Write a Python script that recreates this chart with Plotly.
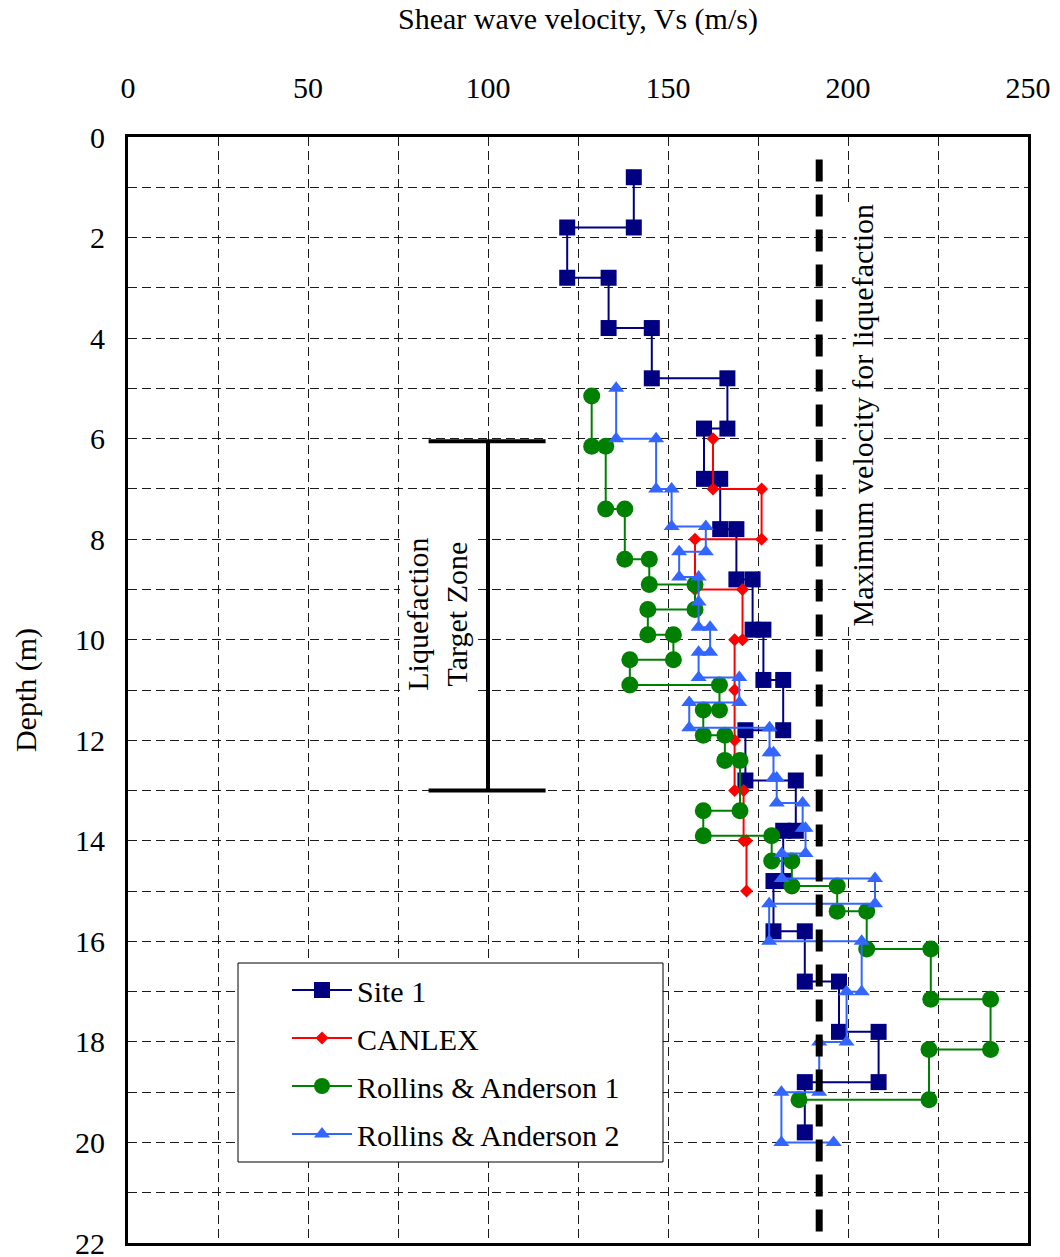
import plotly.graph_objects as go

# ---------------- data ----------------
site1_vs = [140.5, 140.5, 122, 122, 133.5, 133.5, 145.5, 145.5, 166.5, 166.5, 160, 160,
            164.5, 164.5, 169, 169, 173.5, 173.5, 176.5, 176.5, 182, 182, 171.5, 171.5,
            185.5, 185.5, 182, 182, 179.3, 179.3, 188, 188, 197.5, 197.5, 208.5, 208.5,
            188, 188]
site1_depth = [0.8, 1.8, 1.8, 2.8, 2.8, 3.8, 3.8, 4.8, 4.8, 5.8, 5.8, 6.8,
               6.8, 7.8, 7.8, 8.8, 8.8, 9.8, 9.8, 10.8, 10.8, 11.8, 11.8, 12.8,
               12.8, 13.8, 13.8, 14.8, 14.8, 15.8, 15.8, 16.8, 16.8, 17.8, 17.8, 18.8,
               18.8, 19.8]

canlex_vs = [162.5, 162.5, 176, 176, 157.5, 157.5, 170.7, 170.7, 168.5, 168.5,
             168.5, 168.5, 171, 171, 171.8, 171.8]
canlex_depth = [6, 7, 7, 8, 8, 9, 9, 10, 10, 11,
                12, 13, 13, 14, 14, 15]

ra1_vs = [128.8, 128.8, 132.7, 132.7, 138, 138, 144.8, 144.8, 157.5, 157.5,
          144.4, 144.4, 151.5, 151.5, 139.4, 139.4, 164.3, 164.3, 159.8, 159.8,
          165.8, 165.8, 170, 170, 159.8, 159.8, 178.8, 178.8, 184.4, 184.4,
          197, 197, 205.2, 205.2, 223, 223, 239.6, 239.6, 222.5, 222.5, 186.4]
ra1_depth = [5.15, 6.15, 6.15, 7.4, 7.4, 8.4, 8.4, 8.9, 8.9, 9.4,
             9.4, 9.9, 9.9, 10.4, 10.4, 10.9, 10.9, 11.4, 11.4, 11.9,
             11.9, 12.4, 12.4, 13.4, 13.4, 13.9, 13.9, 14.4, 14.4, 14.9,
             14.9, 15.4, 15.4, 16.15, 16.15, 17.15, 17.15, 18.15, 18.15, 19.15, 19.15]

ra2_vs = [135.6, 135.6, 146.7, 146.7, 151, 151, 160.5, 160.5, 153.1, 153.1,
          158.5, 158.5, 158.5, 161.7, 161.7, 158.5, 158.5, 169.8, 169.8, 155.9,
          155.9, 178.2, 178.2, 179.3, 179.3, 180.2, 180.2, 187.4, 187.4, 188.2,
          188.2, 181.6, 181.6, 207.5, 207.5, 178.1, 178.1, 203.8, 203.8, 199.6,
          199.6, 192, 192, 181.5, 181.5, 196]
ra2_depth = [5.0, 6.0, 6.0, 7.0, 7.0, 7.75, 7.75, 8.25, 8.25, 8.75,
             8.75, 9.25, 9.75, 9.75, 10.25, 10.25, 10.75, 10.75, 11.25, 11.25,
             11.75, 11.75, 12.25, 12.25, 12.75, 12.75, 13.25, 13.25, 13.75, 13.75,
             14.25, 14.25, 14.75, 14.75, 15.25, 15.25, 16.0, 16.0, 17.0, 17.0,
             18.0, 18.0, 19.0, 19.0, 20.0, 20.0]

series_names = ["Site 1", "CANLEX", "Rollins & Anderson 1", "Rollins & Anderson 2"]

x_ticks = [0, 50, 100, 150, 200, 250]
y_ticks = [0, 2, 4, 6, 8, 10, 12, 14, 16, 18, 20, 22]

max_velocity = 192            # m/s, limit for liquefaction
max_line_top = 0.45           # depth where the dashed limit line starts
target_zone = (6.05, 13.0)    # depth range of liquefaction target zone
target_zone_x = 100
target_cap = (83.5, 116)

# ---------------- styling ----------------
FONT = "Liberation Serif"
FS = 30

styles = [
    dict(color="#000080", symbol="square", size=16),
    dict(color="#FF0000", symbol="diamond", size=10),
    dict(color="#008000", symbol="circle", size=17),
    dict(color="#3366FF", symbol="triangle-up", size=14),
]
data = [(site1_vs, site1_depth), (canlex_vs, canlex_depth),
        (ra1_vs, ra1_depth), (ra2_vs, ra2_depth)]

fig = go.Figure()
for (xs, ys), name, st in zip(data, series_names, styles):
    fig.add_trace(go.Scatter(
        x=xs, y=ys, mode="lines+markers", name=name, legendgroup=name,
        line=dict(color=st["color"], width=2),
        marker=dict(symbol=st["symbol"], size=st["size"], color=st["color"],
                    line=dict(width=0)),
    ))

grid_kw = dict(gridcolor="#1a1a1a", griddash="9px,5px", gridwidth=1)

fig.update_layout(
    width=1060, height=1257,
    margin=dict(l=128, r=32, t=137, b=14, autoexpand=False),
    paper_bgcolor="white", plot_bgcolor="white",
    font=dict(family=FONT, size=FS, color="black"),
    showlegend=True,
    legend=dict(x=(287 - 128) / 900, xanchor="left", y=(1243 - 964) / 1106, yanchor="top",
                bgcolor="rgba(0,0,0,0)", borderwidth=0,
                font=dict(family=FONT, size=FS, color="black"),
                itemwidth=60, tracegroupgap=6),
    xaxis=dict(
        range=[0, 250], side="top", tickmode="array", tickvals=x_ticks,
        showgrid=True, **grid_kw,
        minor=dict(dtick=25, tick0=0, showgrid=True, **grid_kw),
        zeroline=False, showline=True, mirror=True, linecolor="black", linewidth=3,
        ticks="", ticklabelstandoff=24,
        tickfont=dict(family=FONT, size=FS),
        title=dict(text="Shear wave velocity, Vs (m/s)", font=dict(family=FONT, size=FS), standoff=33),
        automargin=False,
    ),
    yaxis=dict(
        range=[22, 0], tickmode="array", tickvals=y_ticks,
        showgrid=True, **grid_kw,
        minor=dict(dtick=1, tick0=0, showgrid=True, **grid_kw),
        zeroline=False, showline=True, mirror=True, linecolor="black", linewidth=3,
        ticks="", ticklabelstandoff=14, ticklabeloverflow="allow",
        tickfont=dict(family=FONT, size=FS),
        title=dict(text="Depth (m)", font=dict(family=FONT, size=FS), standoff=30),
        automargin=False,
    ),
)

shapes = []
# legend box (white, covers gridlines)
shapes.append(dict(type="rect", xref="paper", yref="paper",
                   x0=(238 - 128) / 900, x1=(663 - 128) / 900,
                   y0=(1243 - 1162) / 1106, y1=(1243 - 963) / 1106,
                   fillcolor="white", line=dict(color="black", width=1), layer="above"))
# maximum velocity line
shapes.append(dict(type="line", xref="x", yref="y", x0=max_velocity, x1=max_velocity,
                   y0=max_line_top, y1=22, line=dict(color="black", width=7, dash="22px,13px"),
                   layer="above"))
# liquefaction target zone bar
shapes.append(dict(type="line", xref="x", yref="y", x0=target_zone_x, x1=target_zone_x,
                   y0=target_zone[0], y1=target_zone[1], line=dict(color="black", width=4)))
for d in target_zone:
    shapes.append(dict(type="line", xref="x", yref="y", x0=target_cap[0], x1=target_cap[1],
                       y0=d, y1=d, line=dict(color="black", width=4)))
fig.update_layout(shapes=shapes)

fig.add_annotation(x=85.6, y=9.5, xref="x", yref="y", text="Liquefaction<br>Target Zone",
                   textangle=-90, showarrow=False, bgcolor="white", borderpad=0,
                   font=dict(family=FONT, size=FS, color="black"))
fig.add_annotation(x=204, y=5.53, xref="x", yref="y", text="Maximum velocity for liquefaction",
                   textangle=-90, showarrow=False, bgcolor="white", borderpad=0,
                   font=dict(family=FONT, size=FS, color="black"))

fig.write_html("out.html")
